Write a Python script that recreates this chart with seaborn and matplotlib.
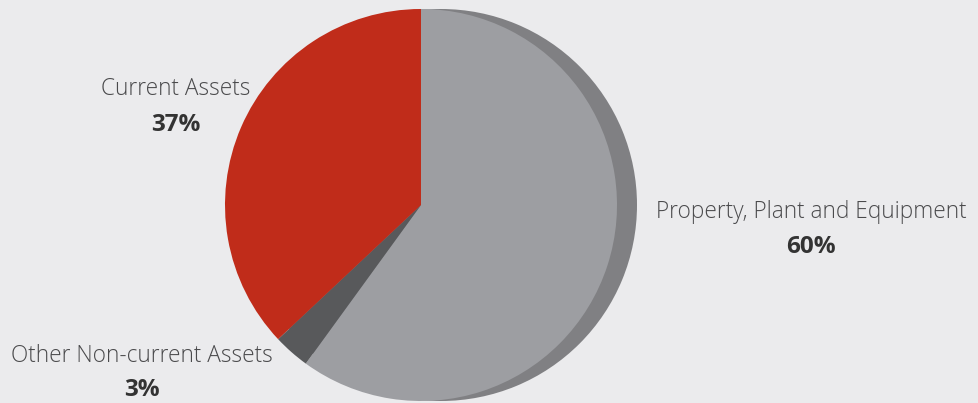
import matplotlib
matplotlib.use("Agg")
import matplotlib.pyplot as plt
import seaborn as sns

categories = ["Property, Plant and Equipment", "Other Non-current Assets", "Current Assets"]
shares = [60, 3, 37]
pct_labels = ["60%", "3%", "37%"]
colors = ["#9d9ea2", "#58595b", "#c02c1a"]

sns.set_theme(style="white")
plt.rcParams["font.family"] = ["Open Sans", "DejaVu Sans"]

bg = "#ebebed"
fig = plt.figure(figsize=(9.79, 4.03), dpi=100, facecolor=bg)
ax = fig.add_axes([0, 0, 1, 1])
ax.set_facecolor(bg)

cx, cy, r = 421, 205, 196
# shadow
ax.pie([1], colors=["#808083"], center=(cx + 20, cy), radius=r,
       wedgeprops=dict(linewidth=0), frame=True)
ax.pie(shares, colors=colors, startangle=-90, counterclock=True,
       center=(cx, cy), radius=r, wedgeprops=dict(linewidth=0), frame=True)
ax.set_xlim(0, 979)
ax.set_ylim(403, 0)
ax.set_aspect("equal")
ax.axis("off")

label_pos = [(811, 212, 247), (142, 356, 390), (176, 89, 125)]
for cat, pct, (x, y1, y2) in zip(categories, pct_labels, label_pos):
    ax.text(x, y1, cat, ha="center", va="center", fontsize=16.3,
            fontweight="light", color="#4a4a4c")
    ax.text(x, y2, pct, ha="center", va="center", fontsize=17.5,
            fontweight="bold", color="#333333")

fig.savefig("out.png", dpi=100, facecolor=bg)
